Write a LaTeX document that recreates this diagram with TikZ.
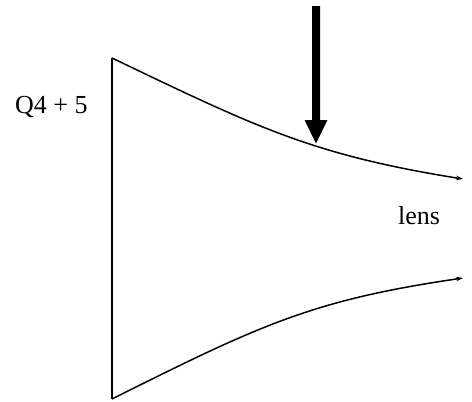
\documentclass[tikz,border=0pt]{standalone}
\usepackage{fontspec}
\setmainfont{Liberation Serif}
\usetikzlibrary{arrows.meta}
\tikzset{
  lensline/.style={line width=1.5pt, -{Stealth[length=7pt,width=4.5pt]}},
  edge/.style={line width=1.5pt},
  bigarrow/.style={fill=black, draw=none},
  label/.style={anchor=base west, inner sep=0pt, font=\fontsize{26}{30}\selectfont}
}
\begin{document}
\begin{tikzpicture}[x=1pt,y=-1pt]
\useasboundingbox (0,0) rectangle (472,402);
\coordinate (top) at (112,58);
\coordinate (bot) at (112,399);
\coordinate (tend) at (463,179);
\coordinate (bend) at (463,278);
\draw[edge] (top) -- (bot);
\draw[lensline] (top) .. controls (258,128) and (313,155) .. (tend);
\draw[lensline] (bot) .. controls (262,324) and (313,300) .. (bend);
\fill[bigarrow] (312,6) -- (320,6) -- (320,120) -- (327.5,120) -- (316,143.5) -- (304.5,120) -- (312,120) -- cycle;
\node[label] (q) at (15,113) {Q4 + 5};
\node[label] (lens) at (398,224.5) {lens};
\end{tikzpicture}
\end{document}
